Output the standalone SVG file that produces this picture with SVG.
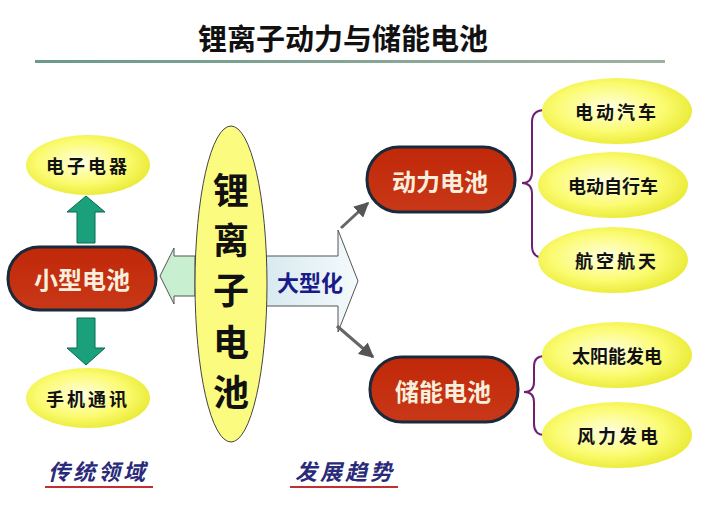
<svg xmlns="http://www.w3.org/2000/svg" width="726" height="508" viewBox="0 0 726 508">
<defs>
<radialGradient id="yg" cx="0.45" cy="0.45" r="0.6"><stop offset="0" stop-color="#ffffe0"/><stop offset="0.6" stop-color="#fbfb70"/><stop offset="1" stop-color="#e8e830"/></radialGradient>
<linearGradient id="rg" x1="0" y1="0" x2="0" y2="1"><stop offset="0" stop-color="#c02808"/><stop offset="1" stop-color="#c83818"/></linearGradient>
<linearGradient id="ln" x1="0" x2="1"><stop offset="0" stop-color="#6a9a8a"/><stop offset="1" stop-color="#a0b0a0"/></linearGradient>
<linearGradient id="bg" x1="0" x2="1"><stop offset="0" stop-color="#d8eaf0"/><stop offset="1" stop-color="#f4fafc"/></linearGradient>
<marker id="ga" viewBox="0 0 10 10" refX="9" refY="5" markerWidth="5" markerHeight="5" orient="auto"><path d="M0 0L10 5L0 10z" fill="#555"/></marker>
</defs>
<style>
.t{font-family:"Noto Sans CJK SC",sans-serif;font-weight:bold;text-anchor:middle;dominant-baseline:central}
.ye{fill:url(#yg)}
.yt{font-size:18px;fill:#111;letter-spacing:3px}
.pill{fill:url(#rg);stroke:#1a2a3a;stroke-width:3}
.pt{font-size:24px;fill:#f8eedd}
.br{fill:none;stroke:#702070;stroke-width:2}
.ga{stroke:#666;stroke-width:3;marker-end:url(#ga)}
.gr{fill:#1aa07a;stroke:#0a6a50;stroke-width:1}
</style>
<rect width="726" height="508" fill="#fff"/>
<text class="t" x="343" y="37" font-size="29" fill="#111">锂离子动力与储能电池</text>
<rect x="35" y="60" width="630" height="3" fill="url(#ln)"/>
<g id="connectors">
<path class="gr" d="M77 243V212H67L86 196L105 212H95V243z"/>
<path class="gr" d="M77 318V348H67L86 365L105 348H95V318z"/>
<path d="M195 256H174V248L160 276L174 304V296H195z" fill="#c8f0d0" stroke="#555" stroke-width="1"/>
<path d="M266 256H338V230L358 281L338 332V306H266z" fill="url(#bg)" stroke="#555" stroke-width="1"/>
<line class="ga" x1="341" y1="228" x2="368" y2="203"/>
<line class="ga" x1="337" y1="326" x2="373" y2="357"/>
<path class="br" d="M545 110Q532 110 532 122V172Q532 183 522 183Q532 183 532 194V246Q532 258 545 258"/>
<path class="br" d="M545 356Q534 356 534 366V382Q534 392 524 392Q534 392 534 402V424Q534 435 545 435"/>
</g>
<text class="t" x="310" y="281" font-size="22" fill="#1a1a8a">大型化</text>
<g id="n1"><ellipse class="ye" cx="88" cy="165" rx="62" ry="30"/><text class="t yt" x="88" y="165">电子电器</text></g>
<g id="n2"><rect class="pill" x="8" y="247" width="148" height="63" rx="31"/><text class="t pt" x="82" y="278">小型电池</text></g>
<g id="n3"><ellipse class="ye" cx="88" cy="398" rx="62" ry="30"/><text class="t yt" x="88" y="398">手机通讯</text></g>
<g id="n4"><ellipse cx="231" cy="284" rx="36" ry="158" fill="#fbfb80" stroke="#444" stroke-width="1"/>
<text class="t" x="231" font-size="36" fill="#111"><tspan x="231" y="188">锂</tspan><tspan x="231" y="238">离</tspan><tspan x="231" y="288">子</tspan><tspan x="231" y="340">电</tspan><tspan x="231" y="390">池</tspan></text></g>
<g id="n5"><rect class="pill" x="367" y="147" width="148" height="65" rx="32"/><text class="t pt" x="440" y="180">动力电池</text></g>
<g id="n6"><rect class="pill" x="370" y="357" width="148" height="65" rx="32"/><text class="t pt" x="443" y="390">储能电池</text></g>
<g id="n7"><ellipse class="ye" cx="617" cy="111" rx="75" ry="33"/><text class="t yt" x="617" y="111">电动汽车</text></g>
<g id="n8"><ellipse class="ye" cx="613" cy="185" rx="75" ry="33"/><text class="t yt" x="613" y="185" style="letter-spacing:0">电动自行车</text></g>
<g id="n9"><ellipse class="ye" cx="613" cy="260" rx="75" ry="33"/><text class="t yt" x="617" y="260">航空航天</text></g>
<g id="n10"><ellipse class="ye" cx="617" cy="355" rx="75" ry="33"/><text class="t yt" x="617" y="355" style="letter-spacing:0">太阳能发电</text></g>
<g id="n11"><ellipse class="ye" cx="617" cy="435" rx="75" ry="33"/><text class="t yt" x="619" y="435">风力发电</text></g>
<text class="t" x="98" y="470" font-size="22" fill="#2a2a7a" style="letter-spacing:3px" font-style="italic">传统领域</text>
<rect x="45" y="486" width="108" height="2" fill="#c03030"/>
<text class="t" x="345" y="470" font-size="22" fill="#2a2a7a" style="letter-spacing:3px" font-style="italic">发展趋势</text>
<rect x="290" y="486" width="108" height="2" fill="#c03030"/>
</svg>
